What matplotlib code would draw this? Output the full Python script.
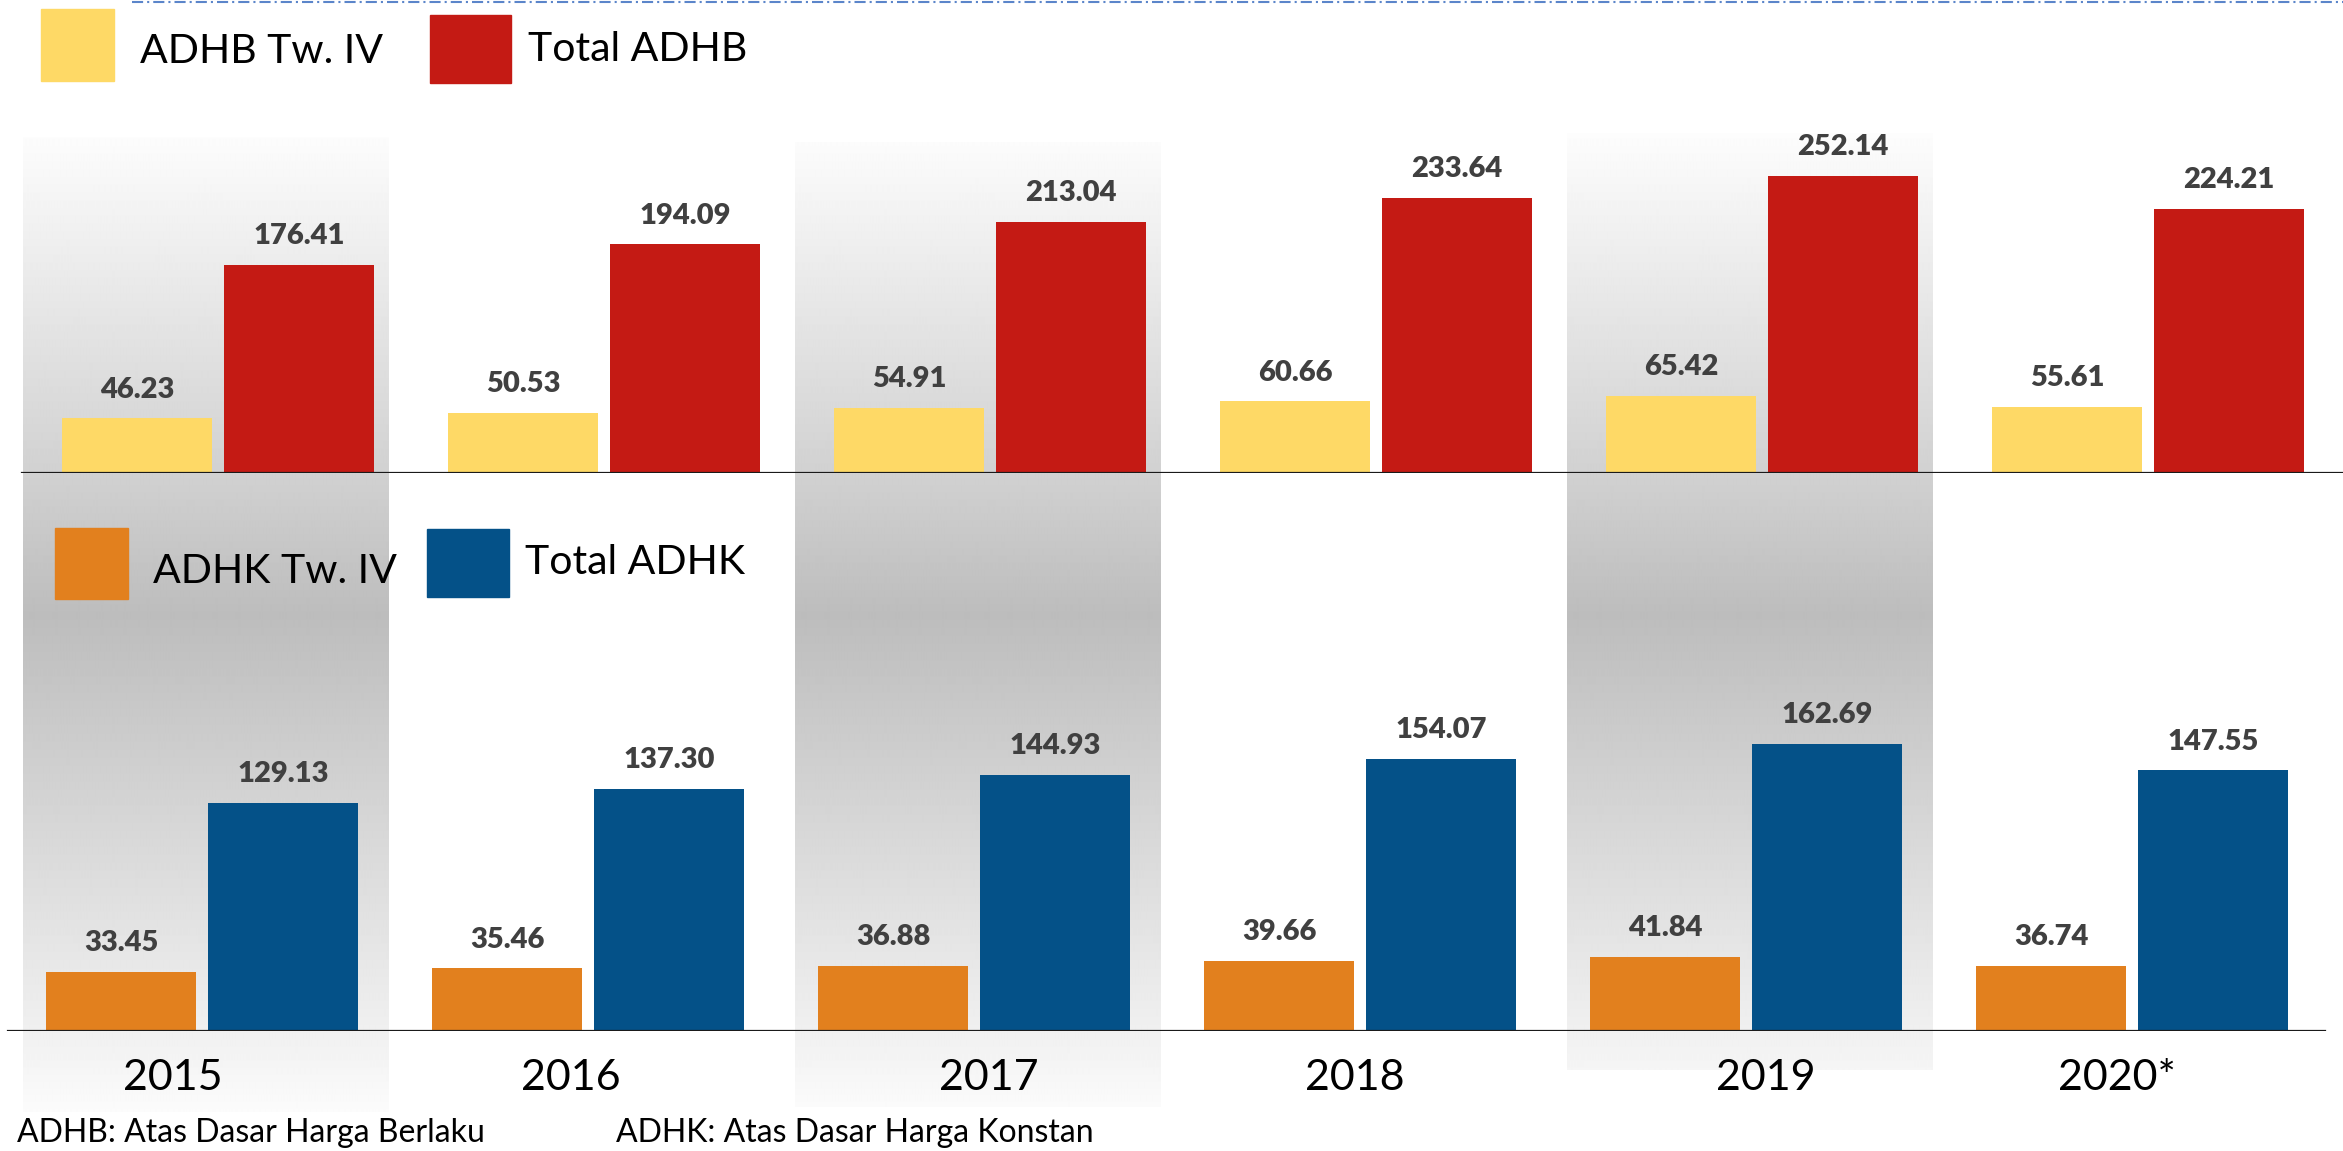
import numpy as np
import matplotlib
matplotlib.use("Agg")
import matplotlib.pyplot as plt
from matplotlib.patches import Rectangle

plt.rcParams['font.family'] = ['Lato', 'DejaVu Sans']
plt.rcParams['lines.scale_dashes'] = False

# ---------------- data ----------------
years = ["2015", "2016", "2017", "2018", "2019", "2020*"]
adhb_tw4 = [46.23, 50.53, 54.91, 60.66, 65.42, 55.61]
adhb_total = [176.41, 194.09, 213.04, 233.64, 252.14, 224.21]
adhk_tw4 = [33.45, 35.46, 36.88, 39.66, 41.84, 36.74]
adhk_total = [129.13, 137.30, 144.93, 154.07, 162.69, 147.55]
legend_top = ["ADHB Tw. IV", "Total ADHB"]
legend_bottom = ["ADHK Tw. IV", "Total ADHK"]
footnotes = ["ADHB: Atas Dasar Harga Berlaku", "ADHK: Atas Dasar Harga Konstan"]

# ---------------- style ----------------
C_YELLOW = "#FED966"
C_RED = "#C41A14"
C_ORANGE = "#E2801E"
C_BLUE = "#045188"
C_LABEL = "#404040"

W, H = 2343, 1151
fig = plt.figure(figsize=(W / 100, H / 100), dpi=100)
fig.patch.set_facecolor("white")

# background axes in pixel coordinates
bg = fig.add_axes([0, 0, 1, 1], zorder=0)
bg.set_xlim(0, W)
bg.set_ylim(H, 0)
bg.axis("off")

# shaded columns (gradient) behind 2015, 2017, 2019
stops_y = [135, 472, 615, 1030, 1110]
stops_v = [0.99, 0.82, 0.74, 0.94, 0.985]
shade_cols = [(0, 137, 1112), (2, 142, 1107), (4, 133, 1070)]
for gi, ytop, ybot in shade_cols:
    xc = 206 + 386 * gi
    yy = np.arange(ytop, ybot)
    vals = np.interp(yy, stops_y, stops_v)
    img = np.repeat(vals[:, None], 2, axis=1)
    bg.imshow(img, cmap="gray", vmin=0, vmax=1, aspect="auto",
              extent=[xc - 183, xc + 183, ybot, ytop], interpolation="bilinear", zorder=0)
bg.set_xlim(0, W)
bg.set_ylim(H, 0)

# dashed line at top
bg.plot([132, W], [2, 2], color="#5B85CA", lw=1.5,
        linestyle=(0, (8, 2.9, 1.5, 2.9)), zorder=2)

# ---------------- top chart ----------------
base_top, scale_top, c_top = 472.7, 1.176, 218
ax1 = fig.add_axes([0, (H - base_top) / H, 1, base_top / H], zorder=1)
ax1.patch.set_alpha(0)
ax1.set_xlim((0 - c_top) / 386, (W - c_top) / 386)
ax1.set_ylim(0, base_top / scale_top)
ax1.axis("off")

bw = 150 / 386
off = 81 / 386
x = np.arange(len(years))
b1 = ax1.bar(x - off, adhb_tw4, bw, color=C_YELLOW, zorder=2)
b2 = ax1.bar(x + off, adhb_total, bw, color=C_RED, zorder=2)
ax1.axhline(0, xmin=22 / W, xmax=1, color="#1a1a1a", lw=1.6, zorder=3)

# ---------------- bottom chart ----------------
base_bot, scale_bot, c_bot = 1031, 1.766, 202
ax2 = fig.add_axes([0, (H - base_bot) / H, 1, (base_bot - 480) / H], zorder=1)
ax2.patch.set_alpha(0)
ax2.set_xlim((0 - c_bot) / 386, (W - c_bot) / 386)
ax2.set_ylim(0, (base_bot - 480) / scale_bot)
ax2.axis("off")
b3 = ax2.bar(x - off, adhk_tw4, bw, color=C_ORANGE, zorder=2)
b4 = ax2.bar(x + off, adhk_total, bw, color=C_BLUE, zorder=2)
ax2.axhline(0, xmin=8 / W, xmax=2325 / W, color="#1a1a1a", lw=1.6, zorder=3)

def label(ax, xs, vals):
    for xi, v in zip(xs, vals):
        ax.annotate(f"{v:.2f}", (xi, v), xytext=(0, 15), textcoords="offset points",
                    ha="center", va="baseline", fontsize=21, fontweight="heavy",
                    color=C_LABEL, annotation_clip=False, zorder=4)

label(ax1, x - off, adhb_tw4)
label(ax1, x + off, adhb_total)
label(ax2, x - off, adhk_tw4)
label(ax2, x + off, adhk_total)

# ---------------- legends (pixel coords) ----------------
leg_font = 29.5
bg.add_patch(Rectangle((41, 9), 73, 72, color=C_YELLOW, zorder=3))
bg.text(140, 63, legend_top[0], fontsize=leg_font, va="baseline", ha="left", color="black", zorder=3)
bg.add_patch(Rectangle((430, 15), 81, 68, color=C_RED, zorder=3))
bg.text(528, 61, legend_top[1], fontsize=leg_font, va="baseline", ha="left", color="black", zorder=3)

bg.add_patch(Rectangle((55, 528), 73, 71, color=C_ORANGE, zorder=3))
bg.text(153, 583, legend_bottom[0], fontsize=leg_font, va="baseline", ha="left", color="black", zorder=3)
bg.add_patch(Rectangle((427, 529), 82, 68, color=C_BLUE, zorder=3))
bg.text(525, 574, legend_bottom[1], fontsize=leg_font, va="baseline", ha="left", color="black", zorder=3)

# ---------------- year labels ----------------
year_shift = [-29, -17, 15, -5, 20, -15]
for i, (yr, s) in enumerate(zip(years, year_shift)):
    bg.text(c_bot + 386 * i + s, 1090, yr, fontsize=31, ha="center", va="baseline",
            color="black", zorder=3)

# ---------------- footnotes ----------------
bg.text(17, 1142, footnotes[0], fontsize=23, ha="left", va="baseline", color="black", zorder=3)
bg.text(616, 1142, footnotes[1], fontsize=23, ha="left", va="baseline", color="black", zorder=3)

fig.savefig("out.png", dpi=100, facecolor="white")
